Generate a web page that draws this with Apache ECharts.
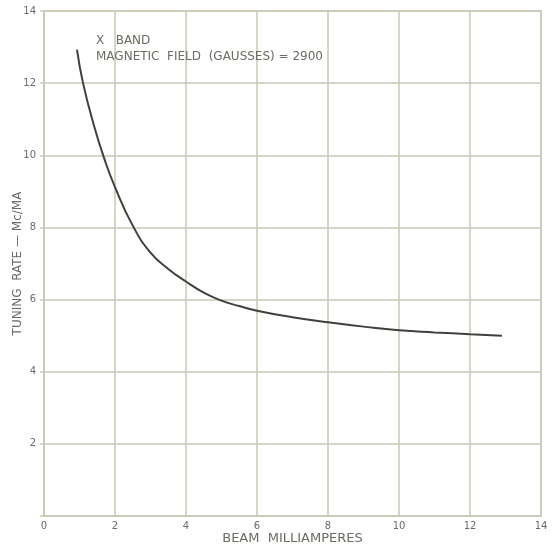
<!DOCTYPE html>
<html>
<head>
<meta charset="utf-8">
<script src="https://cdn.jsdelivr.net/npm/echarts@6/dist/echarts.min.js"></script>
<style>
html,body{margin:0;padding:0;background:#fff;}
#c{width:555px;height:548px;}
</style>
</head>
<body>
<div id="c"></div>
<script>
var beamMA = [0.93, 1.1, 1.4, 1.7, 2.0, 2.5, 3.0, 3.5, 4.0, 4.5, 5.0, 5.5, 6.0, 7.0, 8.0, 9.0, 10.0, 11.0, 12.0, 12.9];
var tuningRate = [12.93, 12.0, 10.85, 9.9, 9.12, 8.05, 7.3, 6.85, 6.5, 6.19, 5.97, 5.82, 5.69, 5.51, 5.37, 5.25, 5.15, 5.09, 5.04, 5.0];
var xTicks = [0, 2, 4, 6, 8, 10, 12, 14];
var yTicks = [2, 4, 6, 8, 10, 12, 14];
var titleLine1 = 'X   BAND';
var titleLine2 = 'MAGNETIC  FIELD  (GAUSSES) = 2900';
var xName = 'BEAM  MILLIAMPERES';
var yName = 'TUNING  RATE — Mc/MA';

var gridColor = '#c9c9b6';
var textColor = '#6b6b62';
var font = 'DejaVu Sans';

var chart = echarts.init(document.getElementById('c'), null, {renderer: 'canvas'});
chart.setOption({
  backgroundColor: '#ffffff',
  animation: false,
  grid: {left: 44, right: 14, top: 11, bottom: 32, show: true, borderColor: gridColor, borderWidth: 1.5,
         containLabel: false, outerBoundsMode: 'none'},
  title: [
    {text: titleLine1, left: 91, top: 30, textStyle: {fontFamily: font, fontSize: 12, fontWeight: 'normal', color: textColor}},
    {text: titleLine2, left: 91, top: 46, textStyle: {fontFamily: font, fontSize: 12, fontWeight: 'normal', color: textColor}}
  ],
  xAxis: {
    type: 'value', min: 0, max: 14, interval: 2,
    name: xName, nameLocation: 'middle', nameGap: 16, nameMoveOverlap: false,
    nameTextStyle: {fontFamily: font, fontSize: 13, color: textColor, verticalAlign: 'top'},
    axisLine: {show: true, lineStyle: {color: gridColor, width: 1.5}},
    axisTick: {show: false},
    splitLine: {show: true, lineStyle: {color: gridColor, width: 1.5}},
    axisLabel: {fontFamily: font, fontSize: 10, color: textColor, margin: 5,
      formatter: function (v) { return xTicks.indexOf(v) >= 0 ? String(v) : ''; }}
  },
  yAxis: {
    type: 'value', min: 0, max: 14, interval: 2,
    name: yName, nameLocation: 'middle', nameGap: 20, nameRotate: 90, nameMoveOverlap: false,
    nameTextStyle: {fontFamily: font, fontSize: 12, color: textColor},
    axisLine: {show: true, lineStyle: {color: gridColor, width: 1.5}},
    axisTick: {show: true, length: 4, lineStyle: {color: gridColor, width: 1.5}},
    splitLine: {show: true, lineStyle: {color: gridColor, width: 1.5}},
    axisLabel: {fontFamily: font, fontSize: 10, color: textColor, margin: 8,
      formatter: function (v) { return yTicks.indexOf(v) >= 0 ? String(v) : ''; }}
  },
  series: [{
    type: 'line',
    data: beamMA.map(function (x, i) { return [x, tuningRate[i]]; }),
    smooth: 0.5,
    showSymbol: false,
    lineStyle: {color: '#3d423c', width: 2}
  }]
});
</script>
</body>
</html>
